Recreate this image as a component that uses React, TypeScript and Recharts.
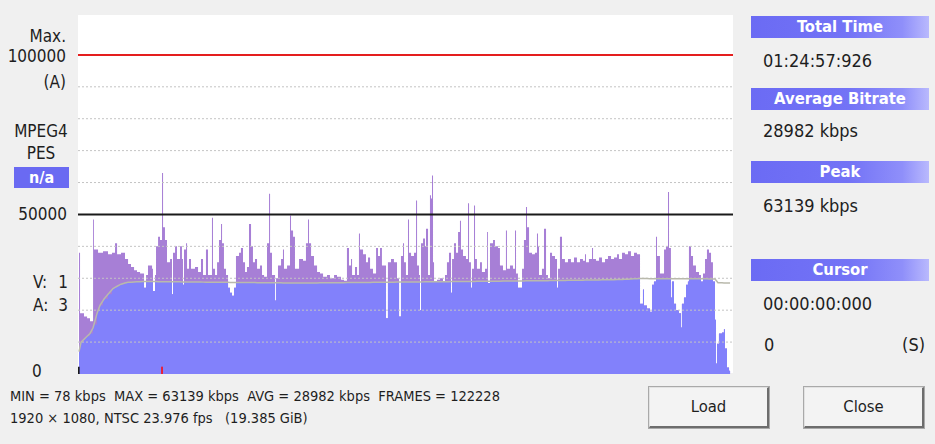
import React from 'react';
import { ComposedChart, Area, Line, XAxis, YAxis, ReferenceLine } from 'recharts';

// time (s) of each bitrate step and its value (kbps)
const times = [0,8,39,63,86,110,117,149,188,227,258,282,298,329,360,384,407,431,454,478,509,525,540,572,579,595,603,619,634,650,658,673,689,713,728,736,752,767,791,806,814,822,838,846,861,877,908,932,955,971,994,1010,1041,1049,1065,1081,1096,1112,1120,1135,1151,1167,1182,1198,1214,1229,1253,1268,1284,1300,1315,1331,1347,1362,1378,1394,1417,1433,1449,1472,1488,1496,1511,1535,1543,1558,1582,1597,1605,1629,1652,1660,1676,1691,1723,1754,1777,1793,1801,1817,1840,1864,1887,1911,1942,1965,1997,2020,2051,2075,2098,2114,2130,2138,2161,2177,2192,2200,2224,2247,2263,2279,2302,2326,2341,2357,2372,2404,2419,2443,2466,2490,2506,2521,2537,2545,2560,2576,2584,2600,2623,2639,2647,2662,2670,2678,2694,2709,2717,2733,2748,2756,2764,2772,2780,2803,2827,2850,2866,2881,2897,2913,2921,2936,2952,2968,2983,2991,3007,3030,3046,3054,3069,3077,3093,3101,3116,3140,3155,3179,3195,3202,3218,3242,3257,3281,3296,3320,3343,3351,3375,3398,3414,3422,3437,3469,3484,3500,3508,3524,3547,3570,3586,3594,3602,3625,3641,3657,3672,3688,3704,3727,3743,3751,3766,3782,3805,3829,3852,3876,3899,3923,3946,3962,3970,3993,4017,4025,4048,4072,4095,4119,4142,4166,4189,4213,4228,4252,4275,4299,4322,4346,4369,4393,4416,4424,4447,4471,4487,4502,4518,4526,4549,4581,4596,4612,4620,4635,4643,4659,4675,4698,4714,4721,4737,4753,4768,4776,4792,4808,4831,4855,4870,4886,4902,4917,4933,4949,4964,4980,4988,4996,5011,5035,5050,5058,5074,5090,5098];
const kbps = [38000,19000,18000,17500,16500,48400,39000,38000,38500,37500,38000,41000,37500,38000,36000,34500,33500,32500,32000,31500,27000,31000,34000,33000,26000,31000,40000,43000,42000,63000,46000,42000,35000,36000,25000,38000,40000,36000,40000,36000,28000,39000,41000,33000,36000,33000,33500,32000,36000,31000,39000,31000,49000,33000,31000,35000,42000,47000,41000,33000,31000,27000,25500,24500,27000,37000,38000,39500,35000,32000,33500,47000,40000,35000,36000,33000,34000,31000,30500,41000,56500,38000,31000,23000,30000,34000,36000,39000,33000,34000,49700,45000,43000,33000,36000,35500,41000,48400,41000,37000,34000,32000,31500,30500,31000,30000,31000,30500,29500,29200,39500,34000,36000,31000,33500,31000,44000,39000,37500,35000,36500,33000,31500,39500,37000,39500,34000,17500,35000,36000,35000,30000,18000,37000,41000,35000,31000,48400,38000,37000,38000,54400,34000,31000,20000,41000,42500,40000,45500,31000,56000,55000,62200,35000,29000,29500,30000,29000,31000,35000,38000,25500,36000,41000,38000,44500,48000,39000,37000,36000,53500,35000,27000,33000,52800,36000,33000,35000,32000,33000,44500,28500,41000,42000,40000,39500,34000,32500,45000,33000,34000,33000,45000,31500,27000,33000,42000,52300,46000,38000,37500,38000,44000,40000,31000,33000,45500,31000,30000,38000,37000,36000,27000,33000,43000,36000,35000,36000,35000,36500,35000,36000,35500,37500,35000,36000,39500,36000,35500,36500,35000,36000,37000,36000,36500,37500,36000,38000,37500,38500,37000,38000,37500,22000,26500,21500,20500,19500,28000,29000,43000,37000,31500,39000,40000,57000,39500,24000,29000,22000,20000,19000,14600,22000,24000,28000,29000,40000,37000,34000,32000,31000,29000,31500,36000,39000,38000,35000,29000,17000,3300,9500,12700,13000,14000,8000,2000,1000,1000];

// running average line (kbps)
const avgTimes = [0,16,55,86,110,141,164,196,227,266,321,376,501,947,1730,2513,3296,3766,4236,4393,4980,5003,5098];
const avgKbps = [7000,10000,11500,12700,14500,19000,21500,23500,25000,26800,28000,28700,29000,28800,28500,28800,29100,29300,29600,29900,29800,28600,28500];

const gridValues = [10000, 20000, 30000, 40000, 60000, 70000, 80000, 90000];
const limits = { max: 100000, mid: 50000 };

function avgAt(t: number) {
  for (let i = 0; i < avgTimes.length - 1; i++) {
    if (t >= avgTimes[i] && t <= avgTimes[i + 1]) {
      const f = (t - avgTimes[i]) / (avgTimes[i + 1] - avgTimes[i] || 1);
      return avgKbps[i] + f * (avgKbps[i + 1] - avgKbps[i]);
    }
  }
  return avgKbps[avgKbps.length - 1];
}

function buildTable() {
  const all = Array.from(new Set([...times, ...avgTimes])).sort((a, b) => a - b);
  return all.map((t) => {
    let idx = 0;
    for (let i = 0; i < times.length; i++) if (times[i] <= t) idx = i;
    const v = kbps[idx];
    const a = avgAt(t);
    return { t, v, avg: a, low: Math.min(v, a) };
  });
}

const table = buildTable();

const FONT = '"DejaVu Sans Condensed", "DejaVu Sans", sans-serif';

function Txt(props: { x?: number; right?: number; y: number; size?: number; bold?: boolean; children: React.ReactNode; color?: string; center?: number; }) {
  const size = props.size ?? 17;
  const style: React.CSSProperties = {
    position: 'absolute',
    top: props.y - size * 0.6,
    fontSize: size,
    lineHeight: '1.2',
    fontWeight: props.bold ? 'bold' : 'normal',
    color: props.color ?? '#1e1e1e',
    whiteSpace: 'pre',
  };
  if (props.center !== undefined) {
    style.left = props.center - 100;
    style.width = 200;
    style.textAlign = 'center';
  } else if (props.right !== undefined) {
    style.right = 935 - props.right;
    style.textAlign = 'right';
  } else {
    style.left = props.x;
  }
  return <div style={style}>{props.children}</div>;
}

function Header({ y, label }: { y: number; label: string }) {
  return (
    <div
      style={{
        position: 'absolute',
        left: 751,
        top: y,
        width: 178,
        height: 22,
        background: 'linear-gradient(to right, #6b6bf4 0%, #7373f6 55%, #8f8ffa 85%, #b9b9fd 100%)',
        color: '#ffffff',
        fontWeight: 'bold',
        fontSize: 16.5,
        lineHeight: '22px',
        textAlign: 'center',
      }}
    >
      {label}
    </div>
  );
}

function Button({ x, label }: { x: number; label: string }) {
  return (
    <div
      style={{
        position: 'absolute',
        left: x,
        top: 387,
        width: 120,
        height: 41,
        boxSizing: 'border-box',
        background: '#f3f3f3',
        borderTop: '1px solid #e2e2e2',
        borderLeft: '1px solid #e2e2e2',
        borderRight: '2px solid #6d6d6d',
        borderBottom: '2px solid #6d6d6d',
        outline: '1px solid #a9a9a9',
        fontSize: 16.5,
        lineHeight: '38px',
        textAlign: 'center',
        color: '#1e1e1e',
      }}
    >
      {label}
    </div>
  );
}

export default function App() {
  return (
    <div
      style={{
        position: 'fixed',
        left: 0,
        top: 0,
        width: 935,
        height: 444,
        background: '#f0f0f0',
        fontFamily: FONT,
        overflow: 'hidden',
      }}
    >
      <div style={{ position: 'absolute', left: 78, top: 15, width: 655, height: 358, background: '#ffffff' }} />
      <div style={{ position: 'absolute', left: 78, top: 15 }}>
        <ComposedChart width={655} height={359} data={table} margin={{ top: 0, right: 0, bottom: 0, left: 0 }}>
          <XAxis dataKey="t" type="number" domain={[-8, 5121]} hide allowDataOverflow />
          <YAxis type="number" domain={[0, 112500]} hide allowDataOverflow />
          <Area dataKey="v" type="stepAfter" stroke="none" fill="#a77fd6" fillOpacity={1} isAnimationActive={false} />
          <Area dataKey="low" type="stepAfter" stroke="none" fill="#8281fb" fillOpacity={1} isAnimationActive={false} />
          {gridValues.map((g) => (
            <ReferenceLine key={g} y={g} stroke="#c4c4c4" strokeDasharray="2 2" strokeWidth={1} />
          ))}
          <Line dataKey="avg" type="linear" stroke="#b9b9ac" strokeWidth={1.5} dot={false} isAnimationActive={false} />
          <ReferenceLine y={limits.max} stroke="#e41e1e" strokeWidth={2} />
          <ReferenceLine y={limits.mid} stroke="#1a1a1a" strokeWidth={2} />
          <ReferenceLine segment={[{ x: 650, y: 0 }, { x: 650, y: 2300 }]} stroke="#e8203a" strokeWidth={2} />
          <ReferenceLine segment={[{ x: -3, y: 0 }, { x: -3, y: 2300 }]} stroke="#1a1a1a" strokeWidth={2} />
        </ComposedChart>
      </div>

      {/* left labels */}
      <Txt right={66} y={36}>Max.</Txt>
      <Txt right={66} y={56}>100000</Txt>
      <Txt right={66} y={82}>(A)</Txt>
      <Txt center={41} y={131}>MPEG4</Txt>
      <Txt center={41} y={153}>PES</Txt>
      <div
        style={{
          position: 'absolute',
          left: 14,
          top: 167,
          width: 55,
          height: 21,
          background: '#6a6af2',
          color: '#fff',
          fontWeight: 'bold',
          fontSize: 16,
          lineHeight: '21px',
          textAlign: 'center',
        }}
      >
        n/a
      </div>
      <Txt right={67} y={214}>50000</Txt>
      <Txt x={33} y={282}>V:</Txt>
      <Txt right={68} y={282}>1</Txt>
      <Txt x={33} y={305}>A:</Txt>
      <Txt right={68} y={305}>3</Txt>
      <Txt x={32} y={371}>0</Txt>

      {/* bottom text */}
      <Txt x={10} y={397} size={14.5}>{'MIN = 78 kbps  MAX = 63139 kbps  AVG = 28982 kbps  FRAMES = 122228'}</Txt>
      <Txt x={10} y={419} size={14.5}>{'1920 × 1080, NTSC 23.976 fps   (19.385 GiB)'}</Txt>

      {/* right panel */}
      <Header y={16} label="Total Time" />
      <Txt x={763} y={61} size={18}>01:24:57:926</Txt>
      <Header y={88} label="Average Bitrate" />
      <Txt x={763} y={131} size={18}>28982 kbps</Txt>
      <Header y={161} label="Peak" />
      <Txt x={763} y={206} size={18}>63139 kbps</Txt>
      <Header y={259} label="Cursor" />
      <Txt x={763} y={304} size={18}>00:00:00:000</Txt>
      <Txt x={764} y={345} size={18}>0</Txt>
      <Txt right={925} y={345} size={18}>(S)</Txt>

      <Button x={649} label="Load" />
      <Button x={804} label="Close" />
    </div>
  );
}
